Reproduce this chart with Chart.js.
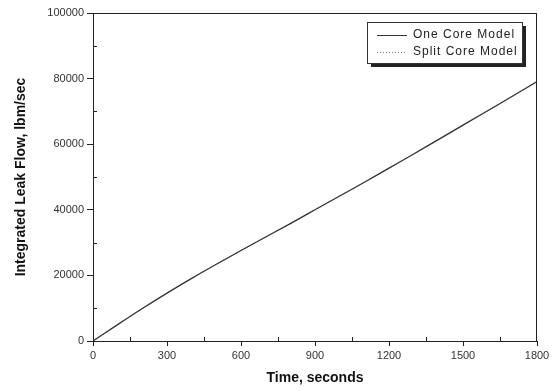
<!DOCTYPE html>
<html>
<head>
<meta charset="utf-8">
<script src="https://cdn.jsdelivr.net/npm/chart.js@4.4.1/dist/chart.umd.min.js"></script>
<style>
  html, body { margin: 0; padding: 0; background: #fff; }
  #wrap { width: 553px; height: 391px; }
</style>
</head>
<body>
<div id="wrap"><canvas id="myChart" width="553" height="391"></canvas></div>
<script>
const times = [0, 100, 200, 300, 400, 500, 600, 700, 800, 900, 1000, 1100, 1200, 1300, 1400, 1500, 1600, 1700, 1800];
const oneCore = [0, 5000, 9900, 14600, 19100, 23400, 27600, 31700, 35800, 40000, 44200, 48400, 52700, 57000, 61400, 65800, 70200, 74600, 79100];
const splitCore = [0, 5000, 9900, 14600, 19100, 23400, 27600, 31700, 35800, 40000, 44200, 48400, 52700, 57000, 61400, 65800, 70200, 74600, 79100];
const seriesNames = ['One Core Model', 'Split Core Model'];
const xTicks = [0, 300, 600, 900, 1200, 1500, 1800];
const yTicks = [0, 20000, 40000, 60000, 80000, 100000];

const ctx = document.getElementById('myChart').getContext('2d');

// box, minor ticks and the shadowed legend
const frame = {
    id: 'frame',
    afterDraw(chart) {
        const c = chart.ctx;
        const a = chart.chartArea;
        const xs = chart.scales.x, ys = chart.scales.y;
        c.save();
        c.strokeStyle = '#222';
        c.lineWidth = 1;
        c.beginPath();
        c.moveTo(a.left, a.top + 0.5); c.lineTo(a.right, a.top + 0.5);
        c.moveTo(a.right - 0.5, a.top); c.lineTo(a.right - 0.5, a.bottom);
        c.stroke();
        // minor ticks
        c.beginPath();
        for (let i = 0; i < xTicks.length - 1; i++) {
            const px = Math.round(xs.getPixelForValue((xTicks[i] + xTicks[i + 1]) / 2)) + 0.5;
            c.moveTo(px, a.bottom); c.lineTo(px, a.bottom - 4);
        }
        for (let i = 0; i < yTicks.length - 1; i++) {
            const py = Math.round(ys.getPixelForValue((yTicks[i] + yTicks[i + 1]) / 2)) + 0.5;
            c.moveTo(a.left, py); c.lineTo(a.left + 4, py);
        }
        c.stroke();

        // legend
        const bx = 367, by = 22, bw = 155, bh = 41;
        c.fillStyle = '#222';
        c.fillRect(bx + 4, by + 4, bw, bh);
        c.fillStyle = '#fff';
        c.fillRect(bx, by, bw, bh);
        c.strokeStyle = '#333';
        c.strokeRect(bx + 0.5, by + 0.5, bw, bh);
        c.font = '12px "Liberation Sans", Arial, sans-serif';
        c.textBaseline = 'middle';
        chart.data.datasets.forEach((ds, i) => {
            const ly = by + 13 + i * 17;
            c.strokeStyle = ds.borderColor;
            c.lineWidth = 1;
            c.setLineDash(ds.borderDash || []);
            c.beginPath();
            c.moveTo(bx + 10, ly + 0.5); c.lineTo(bx + 40, ly + 0.5);
            c.stroke();
            c.setLineDash([]);
            c.fillStyle = '#222';
            c.letterSpacing = '1px';
            c.fillText(ds.label, bx + 46, ly);
        });
        c.restore();
    }
};

const myChart = new Chart(ctx, {
    type: 'line',
    data: {
        labels: times,
        datasets: [{
            label: seriesNames[0],
            data: oneCore,
            borderColor: '#333',
            borderWidth: 1.3,
            pointRadius: 0,
            cubicInterpolationMode: 'monotone'
        }, {
            label: seriesNames[1],
            data: splitCore,
            borderColor: '#777',
            borderWidth: 1,
            borderDash: [1, 2],
            pointRadius: 0,
            cubicInterpolationMode: 'monotone'
        }]
    },
    options: {
        responsive: false,
        animation: false,
        layout: { padding: { top: 13, right: 16, left: 9, bottom: 0 } },
        plugins: { legend: { display: false }, tooltip: { enabled: false } },
        scales: {
            x: {
                type: 'linear',
                min: 0, max: 1800,
                afterBuildTicks: (s) => { s.ticks = xTicks.map(v => ({ value: v })); },
                afterFit: (s) => { s.height = 50; },
                grid: { drawOnChartArea: false, tickLength: 5, color: '#222' },
                border: { color: '#222', width: 1 },
                ticks: { color: '#333', font: { family: 'Liberation Sans', size: 11 }, padding: 3, callback: (v) => String(v) },
                title: {
                    display: true, text: 'Time, seconds', color: '#111',
                    font: { family: 'Liberation Sans', size: 14, weight: 'bold' }, padding: { top: 10 }
                }
            },
            y: {
                min: 0, max: 100000,
                afterBuildTicks: (s) => { s.ticks = yTicks.map(v => ({ value: v })); },
                afterFit: (s) => { s.width = 84; },
                grid: { drawOnChartArea: false, tickLength: 6, color: '#222' },
                border: { color: '#222', width: 1 },
                ticks: { color: '#333', font: { family: 'Liberation Sans', size: 11 }, padding: 3, callback: (v) => String(v) },
                title: {
                    display: true, text: 'Integrated Leak Flow, lbm/sec', color: '#111',
                    font: { family: 'Liberation Sans', size: 14, weight: 'bold' }, padding: { bottom: 6 }
                }
            }
        }
    },
    plugins: [frame]
});
</script>
</body>
</html>
